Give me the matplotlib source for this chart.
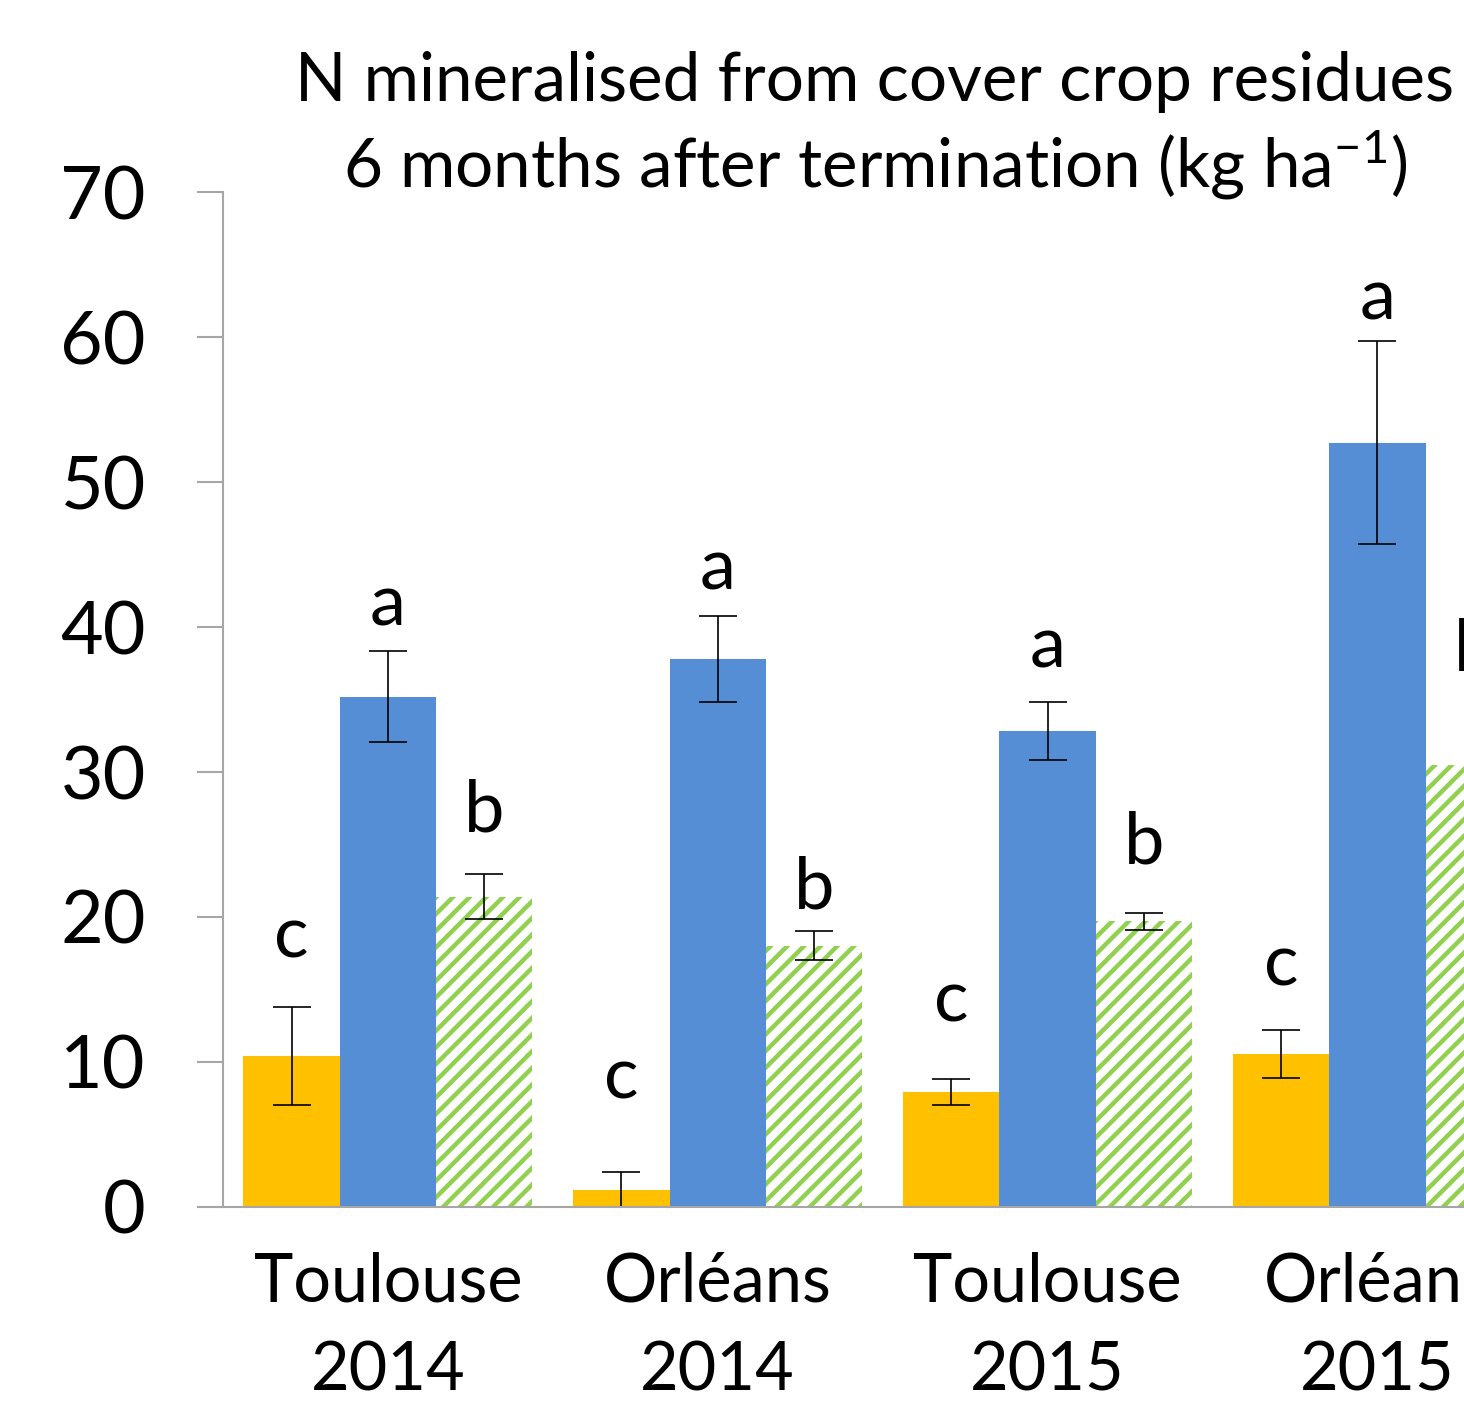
import numpy as np
import matplotlib
matplotlib.use("Agg")
import matplotlib.pyplot as plt

plt.rcParams['font.family'] = ['Lato', 'DejaVu Sans']
plt.rcParams['mathtext.fontset'] = 'custom'
plt.rcParams['mathtext.rm'] = 'Lato'
plt.rcParams['mathtext.default'] = 'regular'
plt.rcParams['hatch.linewidth'] = 3.2

sites = ['Toulouse\n2014', 'Orléans\n2014', 'Toulouse\n2015', 'Orléans\n2015']

yellow = [10.4, 1.2, 7.9, 10.55]
yellow_err = [3.4, 1.2, 0.9, 1.65]
yellow_letters = ['c', 'c', 'c', 'c']

blue = [35.2, 37.8, 32.8, 52.7]
blue_err = [3.15, 2.95, 2.0, 7.0]
blue_letters = ['a', 'a', 'a', 'a']

# last error bar lies outside the cropped picture, unknown
green = [21.4, 18.0, 19.7, 30.5]
green_err = [1.55, 1.0, 0.6, np.nan]
green_letters = ['b', 'b', 'b', 'b']

# baseline height of the letters, in kg/ha
yellow_lab_y = [17.2, 7.45, 12.8, 15.3]
blue_lab_y = [40.1, 42.6, 37.2, 61.2]
green_lab_y = [25.9, 20.6, 23.7, 37.0]

c_yellow = '#FFC000'
c_blue = '#558ED5'
c_green = '#92D050'
c_axis = '#A6A6A6'

fig = plt.figure(figsize=(14.64, 14.13), dpi=100)
# the right side of the chart is cut off in the reference, so the axes run past the figure
ax = fig.add_axes([0.1523, 0.1458, 0.9012, 0.7183])

x = np.arange(len(sites))
w = 0.292
ekw = dict(ecolor='black', elinewidth=1.2, capsize=14, capthick=1.2)

ax.bar(x - w, yellow, w, color=c_yellow, yerr=yellow_err, error_kw=ekw)
ax.bar(x, blue, w, color=c_blue, yerr=blue_err, error_kw=ekw)
ax.bar(x + w, green, w, facecolor='white', edgecolor=c_green, linewidth=0,
       hatch='//', yerr=green_err, error_kw=ekw)

for i in range(len(sites)):
    ax.text(x[i] - w, yellow_lab_y[i], yellow_letters[i], ha='center', va='baseline', fontsize=52)
    ax.text(x[i], blue_lab_y[i], blue_letters[i], ha='center', va='baseline', fontsize=52)
    ax.text(x[i] + w, green_lab_y[i], green_letters[i], ha='center', va='baseline', fontsize=52)

ax.set_xlim(-0.5, 3.5)
ax.set_ylim(0, 70)
ax.set_yticks(np.arange(0, 71, 10))
ax.set_xticks(x)
ax.set_xticklabels(sites, fontsize=48, linespacing=1.55)
ax.tick_params(axis='y', length=18.5, width=1.5, color=c_axis, pad=37, labelsize=53)
ax.tick_params(axis='x', length=0, pad=32)

for s in ['top', 'right']:
    ax.spines[s].set_visible(False)
for s in ['left', 'bottom']:
    ax.spines[s].set_color(c_axis)
    ax.spines[s].set_linewidth(1.5)

fig.text(875 / 1464, 1 - 101 / 1413, 'N mineralised from cover crop residues',
         ha='center', va='baseline', fontsize=48.5)
fig.text(875 / 1464, 1 - 188 / 1413, '6 months after termination (kg ha$^{-1}$)',
         ha='center', va='baseline', fontsize=48.5)

fig.savefig('out.png', dpi=100)
